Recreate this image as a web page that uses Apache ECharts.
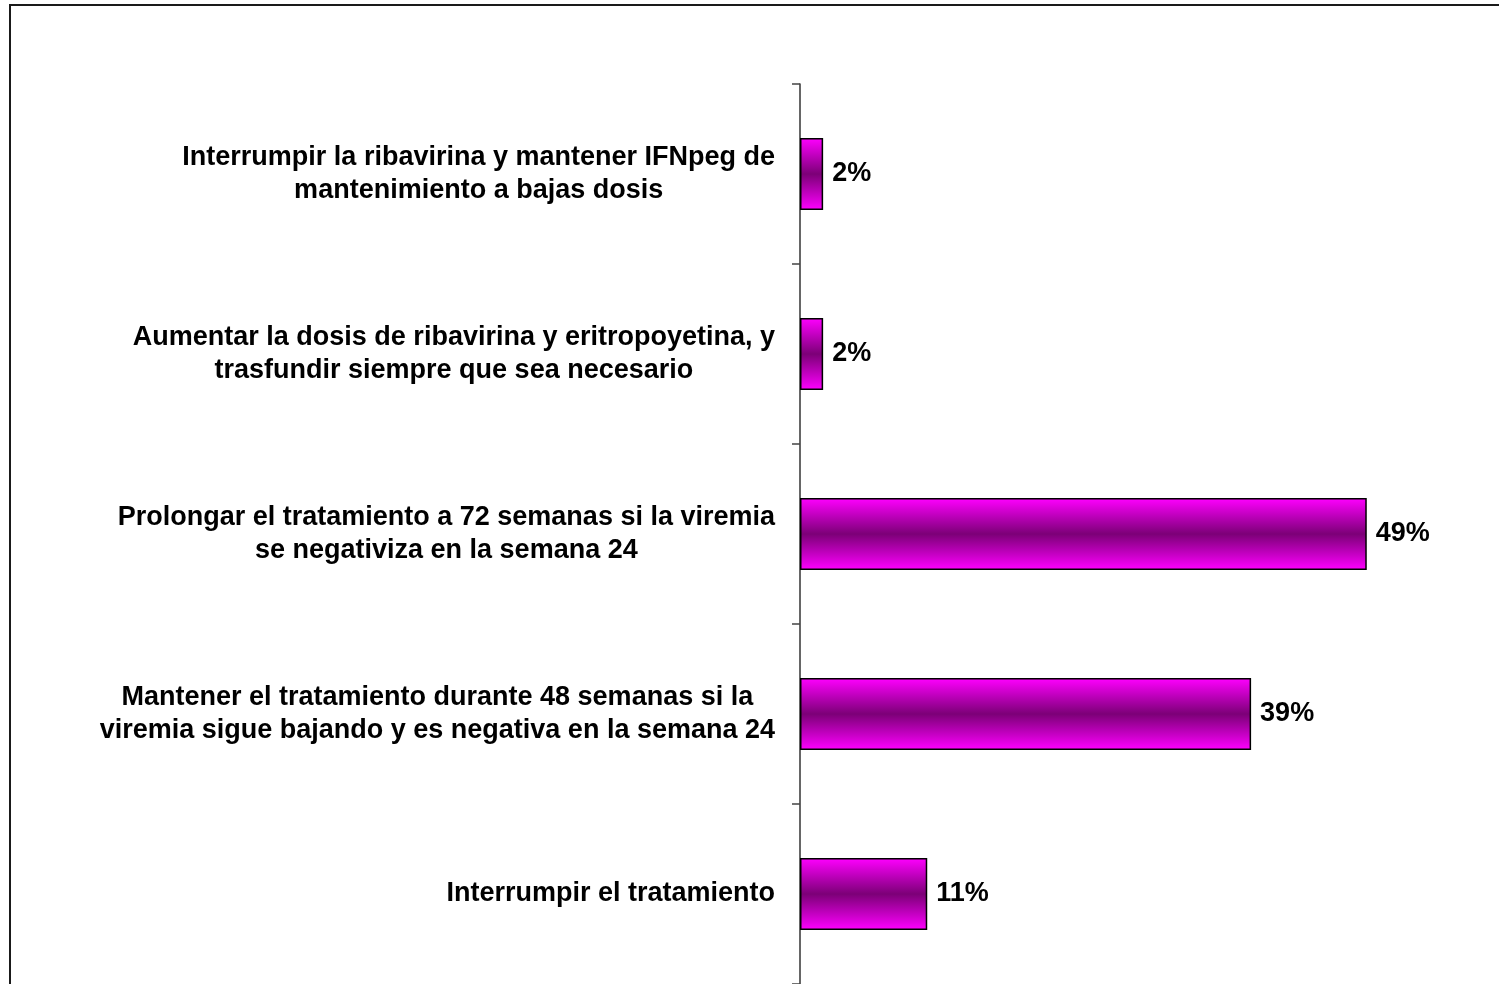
<!DOCTYPE html>
<html>
<head>
<meta charset="utf-8">
<style>
  html, body { margin: 0; padding: 0; background: #fff; }
  #chart { width: 1499px; height: 984px; }
</style>
<script src="https://cdn.jsdelivr.net/npm/echarts@6/dist/echarts.min.js"></script>
</head>
<body>
<div id="chart"></div>
<script>
// Answer options, top to bottom
const categories = [
  'Interrumpir la ribavirina y mantener IFNpeg de\nmantenimiento a bajas dosis',
  'Aumentar la dosis de ribavirina y eritropoyetina, y\ntrasfundir siempre que sea necesario',
  'Prolongar el tratamiento a 72 semanas si la viremia\nse negativiza en la semana 24',
  'Mantener el tratamiento durante 48 semanas si la\nviremia sigue bajando y es negativa en la semana 24',
  'Interrumpir el tratamiento'
];
// Share of respondents (%)
const percentages = [2, 2, 49, 39, 11];

const FONT = '"Liberation Sans", Arial, Helvetica, sans-serif';

const chart = echarts.init(document.getElementById('chart'), null, { renderer: 'canvas' });

const option = {
  backgroundColor: '#fff',
  animation: false,
  graphic: [{
    type: 'rect',
    shape: { x: 10, y: 5, width: 1600, height: 1200 },
    style: { fill: 'none', stroke: '#1a1a1a', lineWidth: 2 },
    silent: true
  }],
  grid: { left: 800, top: 84, height: 906, width: 694, containLabel: false },
  xAxis: {
    type: 'value',
    min: 0,
    max: 60,
    show: false
  },
  yAxis: {
    type: 'category',
    inverse: true,
    data: categories,
    axisLine: { show: true, lineStyle: { color: '#333', width: 1.5 } },
    axisTick: { show: true, length: 8, lineStyle: { color: '#444', width: 1.5 } },
    axisLabel: {
      margin: 25,
      align: 'right',
      // each line is centred inside the label block, block anchored at the axis
      formatter: function (value) {
        return value.split('\n').map(function (line) {
          return '{c|' + line + '}';
        }).join('\n');
      },
      rich: {
        c: {
          fontFamily: FONT,
          fontWeight: 'bold',
          fontSize: 27,
          color: '#000',
          align: 'center',
          lineHeight: 33
        }
      }
    }
  },
  series: [{
    type: 'bar',
    data: percentages,
    barWidth: 72,
    itemStyle: {
      borderColor: '#000',
      borderWidth: 1.5,
      color: new echarts.graphic.LinearGradient(0, 0, 0, 1, [
        { offset: 0, color: '#ff00ff' },
        { offset: 0.5, color: '#7c0077' },
        { offset: 1, color: '#ff00ff' }
      ])
    },
    label: {
      show: true,
      position: 'right',
      distance: 9,
      formatter: '{c}%',
      fontFamily: FONT,
      fontWeight: 'bold',
      fontSize: 27,
      color: '#000'
    }
  }]
};

chart.setOption(option);
</script>
</body>
</html>
